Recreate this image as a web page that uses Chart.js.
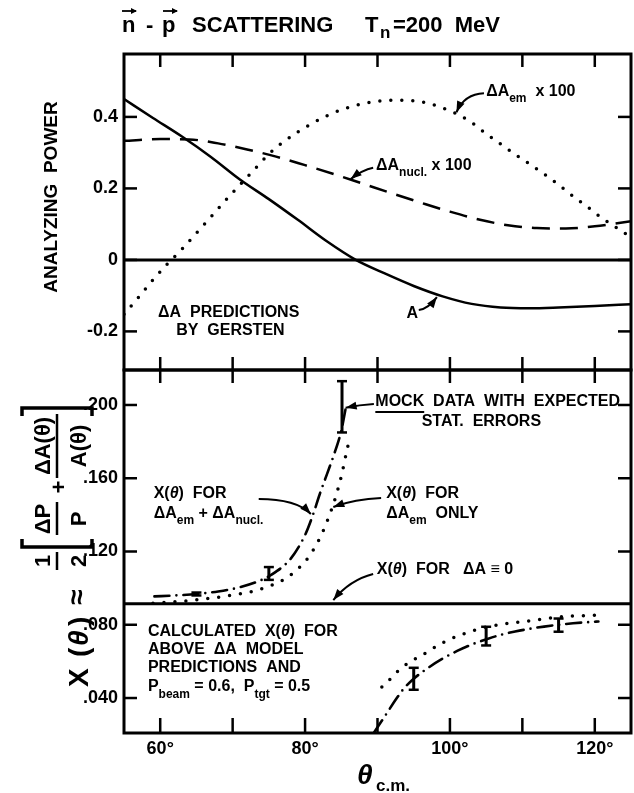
<!DOCTYPE html>
<html>
<head>
<meta charset="utf-8">
<script src="https://cdn.jsdelivr.net/npm/chart.js@4.4.0/dist/chart.umd.min.js"></script>
<style>
html, body { margin: 0; padding: 0; background: #fff; }
#wrap { position: relative; width: 634px; height: 793px; }
canvas { position: absolute; left: 0; top: 0; }
</style>
</head>
<body>
<div id="wrap">
  <canvas id="topChart" width="634" height="793"></canvas>
  <canvas id="bottomChart" width="634" height="793"></canvas>
</div>
<script>
// ---- panel 1: analyzing power A and Gersten's predictions (x100) ----
const thetaA = [55, 59, 63, 67, 71, 75, 79, 83, 87, 91, 95, 99, 103, 107, 111, 115, 120, 125];
const powerA = [0.450, 0.397, 0.345, 0.288, 0.225, 0.170, 0.112, 0.052, 0.000, -0.038, -0.073, -0.102, -0.123, -0.133, -0.135, -0.133, -0.129, -0.124];

const thetaNucl = [55, 60, 64, 68, 72, 76, 80, 84, 88, 92, 96, 100, 104, 108, 112, 116, 120, 125];
const deltaNucl = [0.333, 0.338, 0.337, 0.326, 0.309, 0.289, 0.265, 0.240, 0.213, 0.186, 0.160, 0.135, 0.113, 0.097, 0.089, 0.088, 0.094, 0.108];

const thetaEm = [55, 57, 59, 61, 63, 65, 67, 69, 71, 73, 75, 77, 79, 81, 83, 85, 87, 89, 91, 93, 95, 97, 99, 101, 103, 105, 107, 109, 111, 113, 115, 117, 119, 121, 123, 125];
const deltaEm = [-0.152, -0.105, -0.056, -0.011, 0.030, 0.075, 0.120, 0.166, 0.210, 0.253, 0.296, 0.330, 0.358, 0.382, 0.403, 0.420, 0.432, 0.441, 0.446, 0.447, 0.445, 0.438, 0.425, 0.408, 0.384, 0.353, 0.324, 0.295, 0.268, 0.240, 0.210, 0.178, 0.148, 0.117, 0.090, 0.063];

// ---- panel 2: X(theta) ----
const thetaBothLow = [59.2, 62, 65, 68, 71, 74, 76, 78, 80, 81, 82, 83, 84, 85, 85.6];
const xBothLow = [0.0955, 0.0960, 0.0968, 0.0982, 0.1005, 0.1045, 0.1090, 0.1160, 0.1290, 0.1390, 0.1510, 0.1620, 0.1730, 0.1860, 0.1980];
const thetaBothHigh = [89.5, 90.5, 91.5, 92.5, 93.5, 95, 97, 99, 101, 103, 105, 107, 109, 111, 113, 115, 117, 119, 120.5];
const xBothHigh = [0.021, 0.027, 0.033, 0.039, 0.0445, 0.0505, 0.0565, 0.0615, 0.0657, 0.0692, 0.0720, 0.0745, 0.0763, 0.0778, 0.0790, 0.0800, 0.0808, 0.0814, 0.0818];

const thetaEmLow = [59, 63, 67, 70, 73, 75, 77, 79, 80.5, 82, 83, 84, 85, 85.6, 86.1];
const xEmLow = [0.0918, 0.0928, 0.0945, 0.0962, 0.0985, 0.1010, 0.1045, 0.1105, 0.1170, 0.1270, 0.1360, 0.1470, 0.1610, 0.1720, 0.1810];
const thetaEmHigh = [90.6, 91.8, 92.9, 94.1, 96.4, 99.2, 102, 105.2, 108, 111.7, 115.4, 120.1];
const xEmHigh = [0.0460, 0.0505, 0.0550, 0.0587, 0.0640, 0.0706, 0.0752, 0.0789, 0.0807, 0.0825, 0.0844, 0.0852];

const xNoDelta = 0.0915;   // X(theta) for dA = 0

// mock data with expected stat. errors
const mockTheta = [65, 75, 85.1, 95, 105, 115];
const mockX = [0.0968, 0.1080, 0.1990, 0.0505, 0.0738, 0.0798];
const mockErr = [0.0008, 0.0035, 0.0140, 0.0060, 0.0051, 0.0036];

// ticks
const xLabels = [60, 80, 100, 120];
const xMinor = [60, 70, 80, 90, 100, 110, 120];
const yTicksTop = [-0.2, 0, 0.2, 0.4];
const yTicksBottom = [0.04, 0.08, 0.12, 0.16, 0.20];

const FONT = '"Liberation Sans", Arial, sans-serif';
Chart.defaults.font.family = FONT;
Chart.defaults.color = '#000';

const pts = (xs, ys) => xs.map((x, i) => ({ x: x, y: ys[i] }));
const curve = (data, extra) => Object.assign({
    data: data, borderColor: '#000', borderWidth: 2.5, pointRadius: 0,
    fill: false, cubicInterpolationMode: 'monotone'
}, extra);
const dotted = { borderWidth: 3.5, borderDash: [0, 11], borderCapStyle: 'round' };
const dashDot = { borderWidth: 2.6, borderDash: [15, 7, 0, 7], borderCapStyle: 'round' };

function seg(ctx, x0, y0, x1, y1) {
    ctx.beginPath(); ctx.moveTo(x0, y0); ctx.lineTo(x1, y1); ctx.stroke();
}

function arrow(ctx, p0, pc, p1) {
    ctx.lineWidth = 2;
    ctx.beginPath(); ctx.moveTo(p0[0], p0[1]);
    ctx.quadraticCurveTo(pc[0], pc[1], p1[0], p1[1]); ctx.stroke();
    const a = Math.atan2(p1[1] - pc[1], p1[0] - pc[0]);
    const c = Math.cos(a), s = Math.sin(a);
    ctx.beginPath(); ctx.moveTo(p1[0], p1[1]);
    ctx.lineTo(p1[0] - 11 * c + 4 * s, p1[1] - 11 * s - 4 * c);
    ctx.lineTo(p1[0] - 11 * c - 4 * s, p1[1] - 11 * s + 4 * c);
    ctx.closePath(); ctx.fill();
}

// text with subscripts {sub:..} and italic pieces {it:..}
function rich(ctx, x, y, parts, size) {
    ctx.textBaseline = 'middle'; ctx.textAlign = 'left';
    let cx = x;
    parts.forEach(p => {
        let txt = p;
        if (typeof p === 'string') {
            ctx.font = 'bold ' + size + 'px ' + FONT;
            ctx.fillText(p, cx, y);
        } else if (p.s !== undefined) {
            txt = p.s;
            ctx.font = 'bold ' + Math.round(size * 0.78) + 'px ' + FONT;
            ctx.fillText(txt, cx, y + size * 0.45);
        } else {
            txt = p.it;
            ctx.font = 'bold italic ' + size + 'px ' + FONT;
            ctx.fillText(txt, cx, y);
        }
        cx += ctx.measureText(txt).width;
    });
    return cx;
}

const tickFont = { family: FONT, size: 18, weight: 'bold' };

// ---------------- top panel ----------------
const topPanel = {
    id: 'topPanel',
    afterDatasetsDraw(chart) {
        const { ctx, chartArea: a, scales: { x, y } } = chart;
        const P = (t, v) => [x.getPixelForValue(t), y.getPixelForValue(v)];
        ctx.save();
        ctx.strokeStyle = '#000'; ctx.fillStyle = '#000';
        ctx.lineWidth = 3;
        const y0 = y.getPixelForValue(0);
        seg(ctx, a.left, y0, a.right, y0);
        ctx.strokeRect(a.left, a.top, a.right - a.left, a.bottom - a.top);
        ctx.lineWidth = 2.5;
        yTicksTop.forEach(v => {
            const py = y.getPixelForValue(v);
            seg(ctx, a.left, py, a.left + 13, py);
            seg(ctx, a.right - 13, py, a.right, py);
        });
        xMinor.forEach(t => {
            const px = x.getPixelForValue(t);
            seg(ctx, px, a.top, px, a.top + 13);
            seg(ctx, px, a.bottom - 13, px, a.bottom + 13);
        });

        // curve labels
        let p = P(105.0, 0.470);
        rich(ctx, p[0], p[1], ['\u0394A', { s: 'em' }, '  x 100'], 16);
        arrow(ctx, P(104.7, 0.466), P(102.0, 0.464), P(100.9, 0.413));

        p = P(89.8, 0.263);
        rich(ctx, p[0], p[1], ['\u0394A', { s: 'nucl.' }, ' x 100'], 16);
        arrow(ctx, P(89.4, 0.258), P(87.9, 0.252), P(86.3, 0.226));

        p = P(59.7, -0.148);
        rich(ctx, p[0], p[1], ['\u0394A  PREDICTIONS'], 16);
        p = P(62.2, -0.198);
        rich(ctx, p[0], p[1], ['BY  GERSTEN'], 16);

        p = P(94.0, -0.150);
        rich(ctx, p[0], p[1], ['A'], 16);
        arrow(ctx, P(95.7, -0.140), P(97.0, -0.137), P(98.2, -0.104));

        // title
        ctx.textBaseline = 'alphabetic'; ctx.textAlign = 'left';
        ctx.font = 'bold 22px ' + FONT;
        ctx.fillText('n', 122, 32);
        ctx.fillText('-', 146, 32);
        ctx.fillText('p', 162, 32);
        ctx.fillText('SCATTERING', 192, 32);
        ctx.fillText('T', 365, 32);
        ctx.fillText('=200  MeV', 393, 32);
        ctx.font = 'bold 17px ' + FONT;
        ctx.fillText('n', 380, 38);
        ctx.lineWidth = 1.8;
        [[122, 136], [163, 177]].forEach(r => {
            seg(ctx, r[0], 11, r[1], 11);
            ctx.beginPath(); ctx.moveTo(r[1] + 1, 11); ctx.lineTo(r[1] - 5, 8); ctx.lineTo(r[1] - 5, 14);
            ctx.closePath(); ctx.fill();
        });

        // y title
        ctx.save();
        ctx.translate(52, 197); ctx.rotate(-Math.PI / 2);
        ctx.textAlign = 'center'; ctx.textBaseline = 'middle';
        ctx.font = 'bold 19px ' + FONT;
        ctx.fillText('ANALYZING  POWER', 0, 0);
        ctx.restore();
        ctx.restore();
    }
};

new Chart(document.getElementById('topChart'), {
    type: 'line',
    data: {
        datasets: [
            curve(pts(thetaA, powerA)),
            curve(pts(thetaNucl, deltaNucl), { borderDash: [18, 10] }),
            curve(pts(thetaEm, deltaEm), dotted)
        ]
    },
    options: {
        responsive: false, animation: false,
        layout: { padding: { top: 54, right: 3, bottom: 423, left: 0 } },
        plugins: { legend: { display: false }, tooltip: { enabled: false } },
        scales: {
            x: { type: 'linear', min: 55, max: 125, display: false },
            y: {
                min: -0.308, max: 0.576,
                grid: { display: false, drawTicks: false }, border: { display: false },
                afterFit: s => { s.width = 124; },
                afterBuildTicks: s => { s.ticks = yTicksTop.map(v => ({ value: v })); },
                ticks: { padding: 6, font: tickFont, callback: v => v === 0 ? '0' : v.toFixed(1) }
            }
        }
    },
    plugins: [topPanel]
});

// ---------------- lower panels ----------------
const bottomPanel = {
    id: 'bottomPanel',
    afterDatasetsDraw(chart) {
        const { ctx, chartArea: a, scales: { x, y } } = chart;
        const P = (t, v) => [x.getPixelForValue(t), y.getPixelForValue(v)];
        ctx.save();
        ctx.strokeStyle = '#000'; ctx.fillStyle = '#000';
        ctx.lineWidth = 3;
        ctx.strokeRect(a.left, a.top, a.right - a.left, a.bottom - a.top);
        ctx.lineWidth = 2.5;
        yTicksBottom.forEach(v => {
            const py = y.getPixelForValue(v);
            seg(ctx, a.left, py, a.left + 13, py);
            seg(ctx, a.right - 13, py, a.right, py);
        });
        xMinor.forEach(t => {
            const px = x.getPixelForValue(t);
            seg(ctx, px, a.bottom, px, a.bottom - 15);
        });

        // error bars
        ctx.lineWidth = 3;
        mockTheta.forEach((t, i) => {
            const px = x.getPixelForValue(t);
            const lo = y.getPixelForValue(mockX[i] - mockErr[i]);
            const hi = y.getPixelForValue(mockX[i] + mockErr[i]);
            seg(ctx, px, lo, px, hi);
            ctx.lineWidth = 2.5;
            seg(ctx, px - 5, lo, px + 5, lo);
            seg(ctx, px - 5, hi, px + 5, hi);
            ctx.lineWidth = 3;
        });

        // annotations
        let p = P(89.7, 0.2016);
        rich(ctx, p[0], p[1], ['MOCK  DATA  WITH  EXPECTED'], 16);
        ctx.font = 'bold 16px ' + FONT;
        const wMock = ctx.measureText('MOCK').width;
        ctx.lineWidth = 2;
        seg(ctx, p[0], p[1] + 10, p[0] + wMock, p[1] + 10);
        p = P(96.1, 0.1907);
        rich(ctx, p[0], p[1], ['STAT.  ERRORS'], 16);
        arrow(ctx, P(89.5, 0.2005), P(87.5, 0.2000), P(85.6, 0.1985));

        p = P(59.1, 0.1514);
        rich(ctx, p[0], p[1], ['X(', { it: '\u03b8' }, ')  FOR'], 16);
        p = P(59.1, 0.1405);
        rich(ctx, p[0], p[1], ['\u0394A', { s: 'em' }, ' + \u0394A', { s: 'nucl.' }], 16);
        arrow(ctx, P(73.6, 0.1487), P(78.8, 0.1487), P(80.8, 0.1405));

        p = P(91.2, 0.1514);
        rich(ctx, p[0], p[1], ['X(', { it: '\u03b8' }, ')  FOR'], 16);
        p = P(91.2, 0.1405);
        rich(ctx, p[0], p[1], ['\u0394A', { s: 'em' }, '  ONLY'], 16);
        arrow(ctx, P(90.5, 0.1492), P(86.9, 0.1487), P(83.9, 0.1443));

        p = P(89.9, 0.1099);
        rich(ctx, p[0], p[1], ['X(', { it: '\u03b8' }, ')  FOR   \u0394A \u2261 0'], 16);
        arrow(ctx, P(89.4, 0.1077), P(86.2, 0.1045), P(83.9, 0.0935));

        p = P(58.3, 0.0761);
        rich(ctx, p[0], p[1], ['CALCULATED  X(', { it: '\u03b8' }, ')  FOR'], 16);
        p = P(58.3, 0.0662);
        rich(ctx, p[0], p[1], ['ABOVE  \u0394A  MODEL'], 16);
        p = P(58.3, 0.0564);
        rich(ctx, p[0], p[1], ['PREDICTIONS  AND'], 16);
        p = P(58.3, 0.0460);
        rich(ctx, p[0], p[1], ['P', { s: 'beam' }, ' = 0.6,  P', { s: 'tgt' }, ' = 0.5'], 16);

        // x title
        ctx.textBaseline = 'alphabetic'; ctx.textAlign = 'left';
        ctx.font = 'bold italic 28px ' + FONT;
        ctx.fillText('\u03b8', 357, 784);
        ctx.font = 'bold 17px ' + FONT;
        ctx.fillText('c.m.', 376, 791);

        // y title: X(theta) = 1/2 [dP/P + dA(theta)/A(theta)], rotated
        ctx.save();
        ctx.translate(0, 793); ctx.rotate(-Math.PI / 2);
        ctx.textBaseline = 'alphabetic'; ctx.textAlign = 'left';
        ctx.font = 'bold 28px ' + FONT;
        ctx.fillText('X', 106, 88);
        ctx.fillText('(', 136, 88);
        ctx.fillText(')', 167, 88);
        ctx.fillText('\u2248', 188, 86);
        ctx.font = 'bold italic 28px ' + FONT;
        ctx.fillText('\u03b8', 147, 88);
        ctx.textAlign = 'center';
        ctx.font = 'bold 22px ' + FONT;
        ctx.fillText('1', 232, 50);
        ctx.fillText('2', 232, 86);
        ctx.fillText('\u0394P', 274, 50);
        ctx.fillText('P', 274, 86);
        ctx.fillText('+', 306, 66);
        ctx.fillText('\u0394A(\u03b8)', 347, 50);
        ctx.fillText('A(\u03b8)', 347, 86);
        ctx.lineWidth = 2.5;
        seg(ctx, 223, 57, 241, 57);
        seg(ctx, 258, 57, 291, 57);
        seg(ctx, 315, 57, 379, 57);
        ctx.lineWidth = 3.5;
        ctx.beginPath(); ctx.moveTo(254, 22); ctx.lineTo(246, 22); ctx.lineTo(246, 92); ctx.lineTo(254, 92); ctx.stroke();
        ctx.beginPath(); ctx.moveTo(377, 22); ctx.lineTo(385, 22); ctx.lineTo(385, 92); ctx.lineTo(377, 92); ctx.stroke();
        ctx.restore();
        ctx.restore();
    }
};

new Chart(document.getElementById('bottomChart'), {
    type: 'line',
    data: {
        datasets: [
            curve([{ x: 55, y: xNoDelta }, { x: 125, y: xNoDelta }], { borderWidth: 3 }),
            curve(pts(thetaBothLow, xBothLow), dashDot),
            curve(pts(thetaBothHigh, xBothHigh), dashDot),
            curve(pts(thetaEmLow, xEmLow), dotted),
            curve(pts(thetaEmHigh, xEmHigh), dotted)
        ]
    },
    options: {
        responsive: false, animation: false,
        layout: { padding: { top: 370, right: 3, bottom: 0, left: 0 } },
        plugins: { legend: { display: false }, tooltip: { enabled: false } },
        scales: {
            x: {
                type: 'linear', min: 55, max: 125,
                grid: { display: false, drawTicks: false }, border: { display: false },
                afterFit: s => { s.height = 60; },
                afterBuildTicks: s => { s.ticks = xLabels.map(v => ({ value: v })); },
                ticks: { padding: 5, maxRotation: 0, font: tickFont, callback: v => v + '\u00b0' }
            },
            y: {
                min: 0.0209, max: 0.2191,
                grid: { display: false, drawTicks: false }, border: { display: false },
                afterFit: s => { s.width = 124; },
                afterBuildTicks: s => { s.ticks = yTicksBottom.map(v => ({ value: v })); },
                ticks: { padding: 6, font: tickFont, callback: v => v.toFixed(3).replace(/^0/, '') }
            }
        }
    },
    plugins: [bottomPanel]
});
</script>
</body>
</html>
